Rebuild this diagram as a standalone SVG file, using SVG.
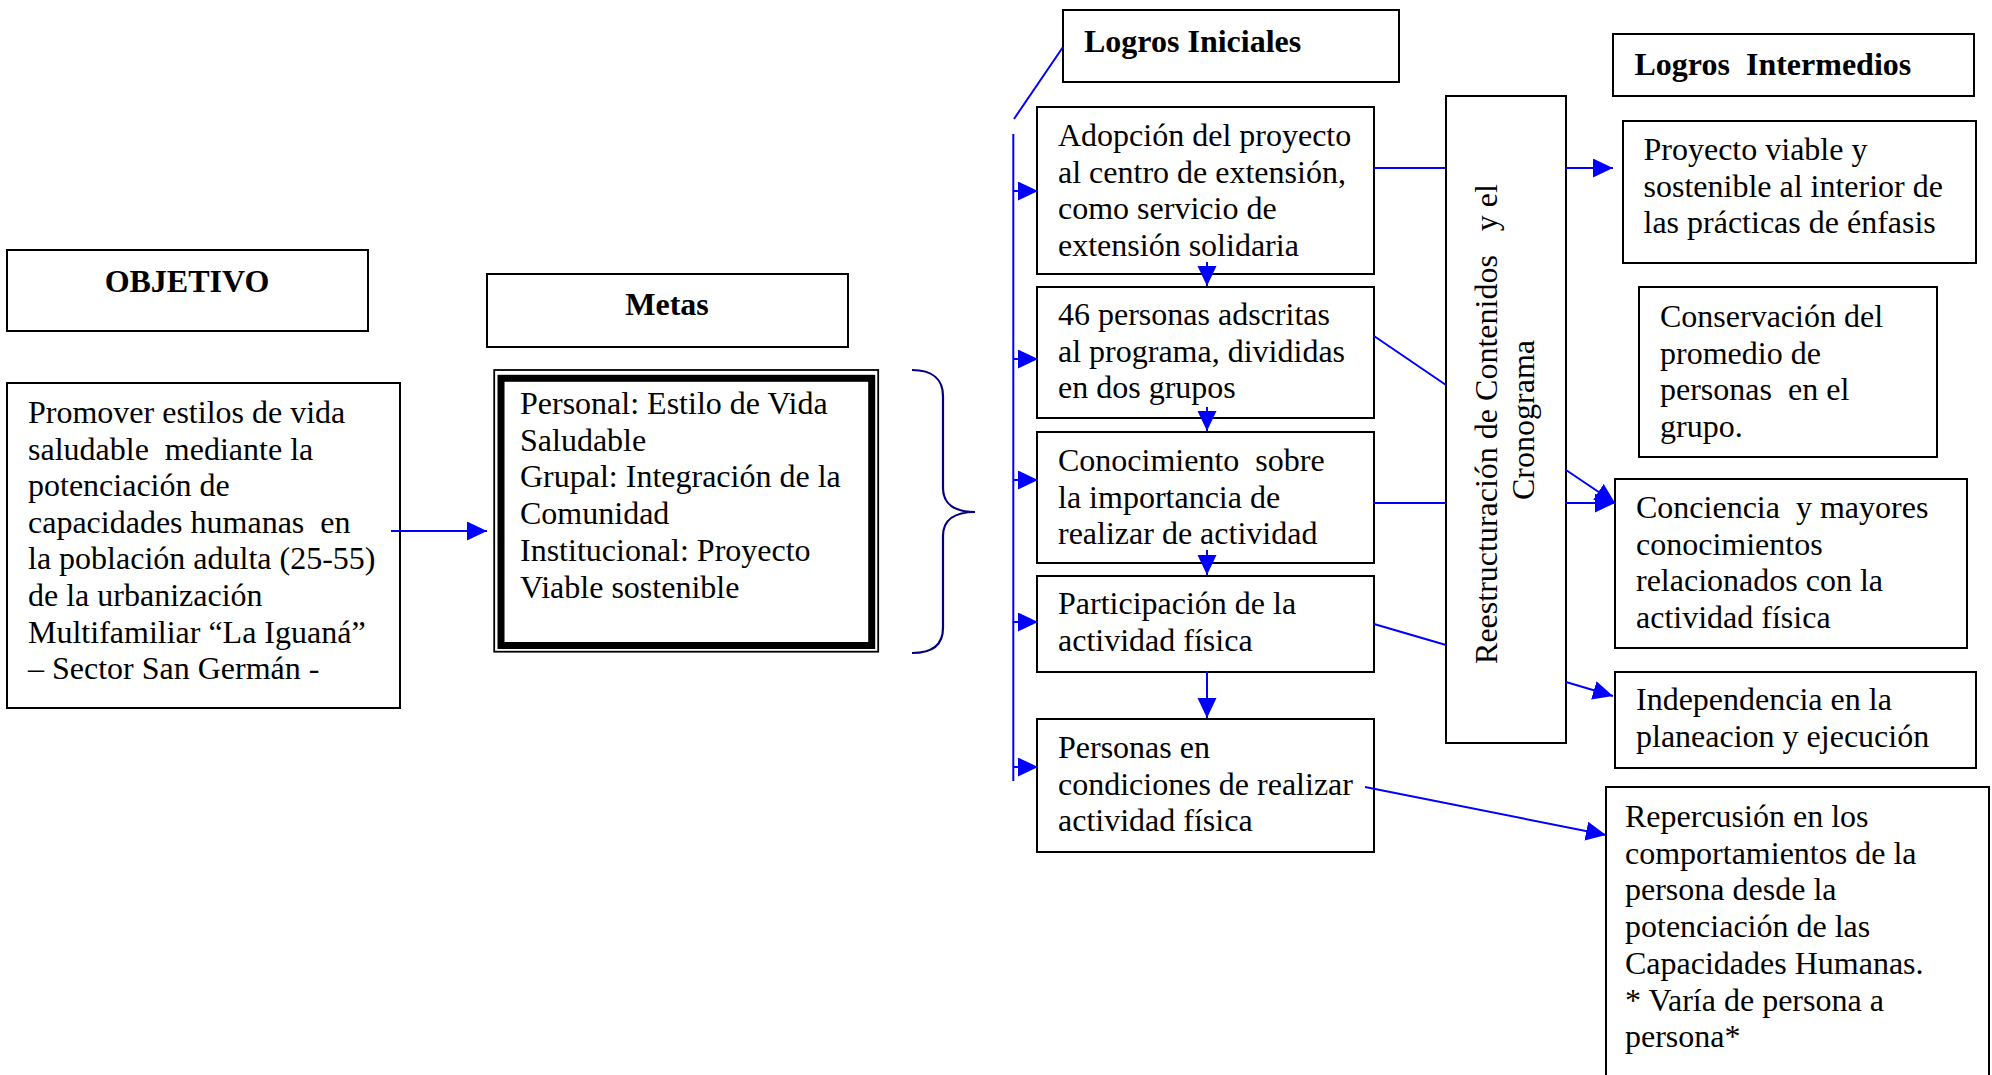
<svg xmlns="http://www.w3.org/2000/svg" width="1992" height="1075" viewBox="0 0 1992 1075">
<style>
text { font-family: 'Liberation Serif', 'Times New Roman', serif; font-size: 32px; fill: #000; }
.b { font-weight: bold; }
.box { fill: #fff; stroke: #000; stroke-width: 2; }
.ln { fill: none; stroke: #0000ff; stroke-width: 2; }
.arr { fill: none; stroke: #0000ff; stroke-width: 2; marker-end: url(#ah); }
.brace { fill: none; stroke: #000080; stroke-width: 2.2; }
</style>
<defs>
<marker id="ah" markerUnits="userSpaceOnUse" markerWidth="21" markerHeight="20" refX="20" refY="9.5" orient="auto">
<path d="M0,0 L20,9.5 L0,19 z" fill="#0000ff"/>
</marker>
</defs>
<rect width="1992" height="1075" fill="#fff"/>

<g id="objetivo-title">
<rect class="box" x="7" y="250" width="361" height="81"/>
<text class="b" x="187" y="292" text-anchor="middle">OBJETIVO</text>
</g>
<g id="objetivo">
<rect class="box" x="7" y="383" width="393" height="325"/>
<text x="28">
<tspan x="28" y="423">Promover estilos de vida</tspan>
<tspan x="28" y="459.6">saludable&#160; mediante la</tspan>
<tspan x="28" y="496.2">potenciación de</tspan>
<tspan x="28" y="532.8">capacidades humanas&#160; en</tspan>
<tspan x="28" y="569.4">la población adulta (25-55)</tspan>
<tspan x="28" y="606">de la urbanización</tspan>
<tspan x="28" y="642.6">Multifamiliar “La Iguaná”</tspan>
<tspan x="28" y="679.2">– Sector San Germán -</tspan>
</text>
</g>

<g id="metas-title">
<rect class="box" x="487" y="274" width="361" height="73"/>
<text class="b" x="667" y="315" text-anchor="middle">Metas</text>
</g>
<g id="metas">
<rect x="494.2" y="370" width="384" height="281.7" fill="#fff" stroke="#000" stroke-width="1.8"/>
<rect x="501" y="378.3" width="370.7" height="267.2" fill="none" stroke="#000" stroke-width="7"/>
<text>
<tspan x="520" y="414">Personal: Estilo de Vida</tspan>
<tspan x="520" y="450.7">Saludable</tspan>
<tspan x="520" y="487.4">Grupal: Integración de la</tspan>
<tspan x="520" y="524.1">Comunidad</tspan>
<tspan x="520" y="560.8">Institucional: Proyecto</tspan>
<tspan x="520" y="597.5">Viable sostenible</tspan>
</text>
</g>

<g id="logros-iniciales">
<rect class="box" x="1063" y="10" width="336" height="72"/>
<text class="b" x="1084" y="52">Logros Iniciales</text>
</g>
<g id="li-1">
<rect class="box" x="1037" y="107" width="337" height="167"/>
<text>
<tspan x="1058" y="146">Adopción del proyecto</tspan>
<tspan x="1058" y="182.7">al centro de extensión,</tspan>
<tspan x="1058" y="219.4">como servicio de</tspan>
<tspan x="1058" y="256.1">extensión solidaria</tspan>
</text>
</g>
<g id="li-2">
<rect class="box" x="1037" y="287" width="337" height="131"/>
<text>
<tspan x="1058" y="325">46 personas adscritas</tspan>
<tspan x="1058" y="361.7">al programa, divididas</tspan>
<tspan x="1058" y="398.4">en dos grupos</tspan>
</text>
</g>
<g id="li-3">
<rect class="box" x="1037" y="432" width="337" height="131"/>
<text>
<tspan x="1058" y="471">Conocimiento&#160; sobre</tspan>
<tspan x="1058" y="507.7">la importancia de</tspan>
<tspan x="1058" y="544.4">realizar de actividad</tspan>
</text>
</g>
<g id="li-4">
<rect class="box" x="1037" y="576" width="337" height="96"/>
<text>
<tspan x="1058" y="614">Participación de la</tspan>
<tspan x="1058" y="650.7">actividad física</tspan>
</text>
</g>
<g id="li-5">
<rect class="box" x="1037" y="719" width="337" height="133"/>
<text>
<tspan x="1058" y="758">Personas en</tspan>
<tspan x="1058" y="794.7">condiciones de realizar</tspan>
<tspan x="1058" y="831.4">actividad física</tspan>
</text>
</g>

<g id="reestructuracion">
<rect class="box" x="1446" y="96" width="120" height="647"/>
<text transform="translate(1497,420) rotate(-90)" text-anchor="middle">
<tspan x="0" y="0">Reestructuración de Contenidos&#160;&#160; y el</tspan>
<tspan x="0" y="37">Cronograma</tspan>
</text>
</g>

<g id="logros-intermedios">
<rect class="box" x="1613" y="34" width="361" height="62"/>
<text class="b" x="1634.5" y="75">Logros&#160; Intermedios</text>
</g>
<g id="lm-1">
<rect class="box" x="1623" y="121" width="353" height="142"/>
<text>
<tspan x="1643.5" y="160">Proyecto viable y</tspan>
<tspan x="1643.5" y="196.7">sostenible al interior de</tspan>
<tspan x="1643.5" y="233.4">las prácticas de énfasis</tspan>
</text>
</g>
<g id="lm-2">
<rect class="box" x="1639" y="287" width="298" height="170"/>
<text>
<tspan x="1660" y="327">Conservación del</tspan>
<tspan x="1660" y="363.7">promedio de</tspan>
<tspan x="1660" y="400.4">personas&#160; en el</tspan>
<tspan x="1660" y="437.1">grupo.</tspan>
</text>
</g>
<g id="lm-3">
<rect class="box" x="1615" y="479" width="352" height="169"/>
<text>
<tspan x="1636" y="518">Conciencia&#160; y mayores</tspan>
<tspan x="1636" y="554.7">conocimientos</tspan>
<tspan x="1636" y="591.4">relacionados con la</tspan>
<tspan x="1636" y="628.1">actividad física</tspan>
</text>
</g>
<g id="lm-4">
<rect class="box" x="1615" y="672" width="361" height="96"/>
<text>
<tspan x="1636" y="710">Independencia en la</tspan>
<tspan x="1636" y="746.7">planeacion y ejecución</tspan>
</text>
</g>
<g id="lm-5">
<rect class="box" x="1606" y="787" width="383" height="300"/>
<text>
<tspan x="1625" y="827">Repercusión en los</tspan>
<tspan x="1625" y="863.7">comportamientos de la</tspan>
<tspan x="1625" y="900.4">persona desde la</tspan>
<tspan x="1625" y="937.1">potenciación de las</tspan>
<tspan x="1625" y="973.8">Capacidades Humanas.</tspan>
<tspan x="1625" y="1010.5">* Varía de persona a</tspan>
<tspan x="1625" y="1047.2">persona*</tspan>
</text>
</g>

<g id="connectors">
<line class="arr" x1="391" y1="531" x2="487" y2="531"/>
<path class="brace" d="M912,370 C933,370 943,380 943,396 L943,488 C943,504 955,512 975,512 C955,512 943,520 943,536 L943,628 C943,644 933,653 912,653"/>
<line class="ln" x1="1063" y1="47" x2="1014" y2="119"/>
<line class="ln" x1="1013.3" y1="134" x2="1013.3" y2="781"/>
<line class="arr" x1="1013" y1="191" x2="1038" y2="191"/>
<line class="arr" x1="1013" y1="359" x2="1038" y2="359"/>
<line class="arr" x1="1013" y1="480" x2="1038" y2="480"/>
<line class="arr" x1="1013" y1="622" x2="1038" y2="622"/>
<line class="arr" x1="1013" y1="767" x2="1038" y2="767"/>
<line class="arr" x1="1207" y1="262" x2="1207" y2="286"/>
<line class="arr" x1="1207" y1="407" x2="1207" y2="431"/>
<line class="arr" x1="1207" y1="550" x2="1207" y2="575"/>
<line class="arr" x1="1207" y1="671" x2="1207" y2="718"/>
<line class="ln" x1="1374" y1="168" x2="1446" y2="168"/>
<line class="arr" x1="1566" y1="168" x2="1613" y2="168"/>
<line class="ln" x1="1374" y1="336" x2="1446" y2="385"/>
<line class="ln" x1="1374" y1="503" x2="1446" y2="503"/>
<line class="arr" x1="1566" y1="503" x2="1615" y2="503"/>
<line class="arr" x1="1566" y1="470" x2="1615" y2="503"/>
<line class="ln" x1="1374" y1="624" x2="1446" y2="645"/>
<line class="arr" x1="1566" y1="682" x2="1613" y2="696"/>
<line class="arr" x1="1365" y1="787" x2="1606" y2="835"/>
</g>
</svg>
